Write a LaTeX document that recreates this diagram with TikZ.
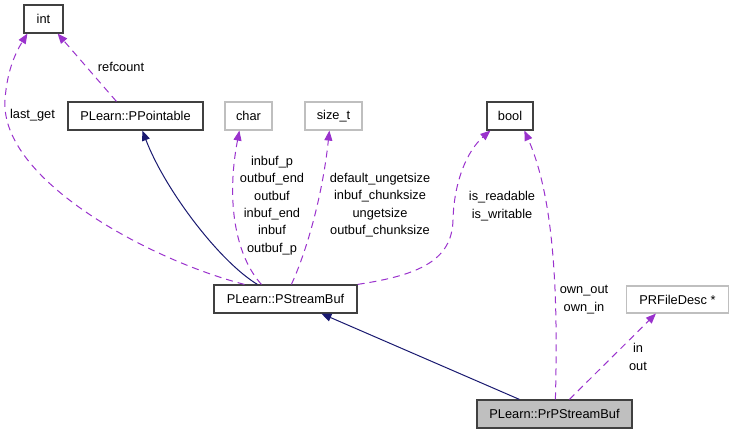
\documentclass[tikz,border=0pt]{standalone}
\usepackage{fontspec}
\setmainfont{Liberation Sans}
\usetikzlibrary{arrows.meta,calc}
\definecolor{navyc}{HTML}{191970}
\definecolor{purp}{HTML}{9A32CD}
\definecolor{boxdark}{HTML}{404040}
\definecolor{boxlight}{HTML}{BFBFBF}
\tikzset{
  cls/.style={draw=boxdark, line width=1.2pt, inner sep=0pt, minimum height=28pt,
    font=\fontsize{12.8}{15}\selectfont},
  ext/.style={cls, draw=boxlight},
  inh/.style={draw=navyc, line width=1pt, -{Triangle[length=10pt,width=8pt]}},
  use/.style={draw=purp, line width=1pt, dash pattern=on 7pt off 5pt,
    -{Triangle[length=10pt,width=8pt]}},
  lbl/.style={inner sep=0pt, align=center, font=\fontsize{12.8}{17.3}\selectfont}
}
\begin{document}
\begin{tikzpicture}[x=1pt,y=-1pt]
\useasboundingbox (0,0) rectangle (734,435);
% nodes
\node[cls, minimum width=39pt] (int) at (43.5,19) {int};
\node[cls, minimum width=135pt] (pp) at (135.5,116) {PLearn::PPointable};
\node[ext, minimum width=47pt] (char) at (248.5,116) {char};
\node[ext, minimum width=57pt] (sizet) at (333.5,116) {size\_t};
\node[cls, minimum width=46pt] (bool) at (510,116) {bool};
\node[cls, minimum width=143pt] (ps) at (285.5,299) {PLearn::PStreamBuf};
\node[ext, minimum width=102pt, minimum height=27pt] (prf) at (677.5,299.5) {PRFileDesc *};
\node[cls, minimum width=155pt, fill=boxlight] (pr) at (554.5,414) {PLearn::PrPStreamBuf};
% inheritance
\draw[inh] ($(ps.north west)+(44,0)$) .. controls (220,262) and (165,190) .. ($(pp.south west)+(75,0)$);
\draw[inh] ($(pr.north west)+(43,0)$) -- ($(ps.south west)+(108,0)$);
% usage
\draw[use] ($(ps.north west)+(31,0)$) .. controls (150,260) and (0,180) .. (5,100)
  .. controls (7,70) and (16,52) .. ($(int.south west)+(4,0)$);
\node[lbl] (l1) at (32.5,115) {last\_get};
\draw[use] ($(pp.north west)+(49,0)$) -- ($(int.south east)+(-6,0)$);
\node[lbl] (l2) at (121,67) {refcount};
\draw[use] ($(ps.north west)+(48,0)$) .. controls (235,255) and (226,200) .. ($(char.south west)+(15,0)$);
\node[lbl] (l3) at (272,205.5) {inbuf\_p\\outbuf\_end\\outbuf\\inbuf\_end\\inbuf\\outbuf\_p};
\draw[use] ($(ps.north west)+(78,0)$) .. controls (305,255) and (322,200) .. ($(sizet.south west)+(25,0)$);
\node[lbl] (l4) at (380,205) {default\_ungetsize\\inbuf\_chunksize\\ungetsize\\outbuf\_chunksize};
\draw[use] (ps.north east) .. controls (420,275) and (452,260) .. (453,220)
  .. controls (454,180) and (468,150) .. ($(bool.south west)+(4,0)$);
\node[lbl] (l5) at (502,206) {is\_readable\\is\_writable};
\draw[use] ($(pr.north west)+(79,0)$) .. controls (558,300) and (555,200) .. ($(bool.south west)+(38,0)$);
\node[lbl] (l6) at (584,299.5) {own\_out\\own\_in};
\draw[use] ($(pr.north west)+(93,0)$) -- ($(prf.south west)+(30,0)$);
\node[lbl] (l7) at (638,357) {in\\out};
\end{tikzpicture}
\end{document}
